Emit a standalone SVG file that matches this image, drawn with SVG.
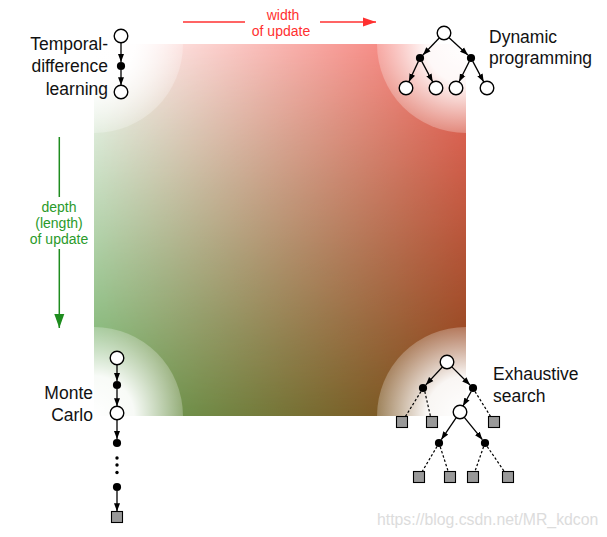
<svg xmlns="http://www.w3.org/2000/svg" width="607" height="537" viewBox="0 0 607 537">
<style>
.lbl{font-family:"Liberation Sans",Arial,Helvetica,sans-serif;font-size:17.5px;fill:#111}
.small{font-family:"Liberation Sans",Arial,Helvetica,sans-serif;font-size:14px}
.open{fill:#fff;stroke:#000;stroke-width:1.4}
.dot{fill:#000}
.sq{fill:#999;stroke:#000;stroke-width:1.1}
.edge{stroke:#000;stroke-width:1.3;fill:none;marker-end:url(#ah)}
.dash{stroke:#000;stroke-width:1.2;fill:none;stroke-dasharray:2.5 2}
</style>
<defs>
<linearGradient id="gTop" x1="0" y1="0" x2="1" y2="0">
<stop offset="0" stop-color="#ffffff"/><stop offset="1" stop-color="#f46a62"/>
</linearGradient>
<linearGradient id="gBot" x1="0" y1="0" x2="1" y2="0">
<stop offset="0" stop-color="#69a85a"/><stop offset="1" stop-color="#824214"/>
</linearGradient>
<linearGradient id="gV" x1="0" y1="0" x2="0" y2="1">
<stop offset="0" stop-color="#000"/><stop offset="1" stop-color="#fff"/>
</linearGradient>
<mask id="mV" maskUnits="userSpaceOnUse" x="94" y="44" width="372" height="372">
<rect x="94" y="44" width="372" height="372" fill="url(#gV)"/>
</mask>
<radialGradient id="gW">
<stop offset="0" stop-color="#fff" stop-opacity="1"/>
<stop offset="0.45" stop-color="#fff" stop-opacity="0.95"/>
<stop offset="1" stop-color="#fff" stop-opacity="0.25"/>
</radialGradient>
<clipPath id="sqClip"><rect x="94" y="44" width="372" height="372"/></clipPath>
<marker id="ah" markerUnits="userSpaceOnUse" markerWidth="8" markerHeight="7" refX="8" refY="3.5" orient="auto">
<path d="M0,0.5 L8,3.5 L0,6.5 z" fill="#000"/>
</marker>
<marker id="ahRed" markerUnits="userSpaceOnUse" markerWidth="13" markerHeight="10" refX="13" refY="5" orient="auto">
<path d="M0,0.6 L13,5 L0,9.4 z" fill="#ff3030"/>
</marker>
<marker id="ahGreen" markerUnits="userSpaceOnUse" markerWidth="14" markerHeight="11" refX="14" refY="5.5" orient="auto">
<path d="M0,0.5 L14,5.5 L0,10.5 z" fill="#1e8c1e"/>
</marker>
</defs>

<g id="background">
<rect x="94" y="44" width="372" height="372" fill="url(#gTop)"/>
<rect x="94" y="44" width="372" height="372" fill="url(#gBot)" mask="url(#mV)"/>
<g clip-path="url(#sqClip)">
<circle cx="94" cy="44" r="89" fill="url(#gW)"/>
<circle cx="466" cy="44" r="89" fill="url(#gW)"/>
<circle cx="94" cy="416" r="89" fill="url(#gW)"/>
<circle cx="466" cy="416" r="89" fill="url(#gW)"/>
</g>
</g>

<g id="axes">
<g id="width-axis">
<line x1="183" y1="22" x2="245" y2="22" stroke="#ff3030" stroke-width="1.5"/>
<line x1="320" y1="22" x2="376" y2="22" stroke="#ff3030" stroke-width="1.5" marker-end="url(#ahRed)"/>
<text class="small" fill="#ff3030" text-anchor="middle" x="283" y="20">width</text>
<text class="small" fill="#ff3030" text-anchor="middle" x="281" y="36">of update</text>
</g>
<g id="depth-axis">
<line x1="59.3" y1="137" x2="59.3" y2="197" stroke="#1e8c1e" stroke-width="1.5"/>
<line x1="59.3" y1="249" x2="59.3" y2="328" stroke="#1e8c1e" stroke-width="1.5" marker-end="url(#ahGreen)"/>
<text class="small" fill="#2a9a2a" text-anchor="middle" x="59" y="212">depth</text>
<text class="small" fill="#2a9a2a" text-anchor="middle" x="59" y="228">(length)</text>
<text class="small" fill="#2a9a2a" text-anchor="middle" x="59" y="244">of update</text>
</g>
</g>

<g id="connectors">
<line class="edge" x1="121" y1="42.6" x2="121" y2="62"/>
<line class="edge" x1="121" y1="70" x2="121" y2="85.2"/>
<line class="edge" x1="439.5" y1="37.7" x2="422.9" y2="55"/>
<line class="edge" x1="448.8" y1="37.4" x2="467.9" y2="55.1"/>
<line class="edge" x1="418.4" y1="61.4" x2="408.9" y2="81.7"/>
<line class="edge" x1="421.8" y1="61.4" x2="432.7" y2="81.9"/>
<line class="edge" x1="469.3" y1="61.4" x2="459.1" y2="81.8"/>
<line class="edge" x1="472.8" y1="61.4" x2="483.7" y2="81.9"/>
<line class="edge" x1="117" y1="364.6" x2="117" y2="381"/>
<line class="edge" x1="117" y1="389" x2="117" y2="406.2"/>
<line class="edge" x1="117" y1="419.6" x2="117" y2="439"/>
<line class="edge" x1="117" y1="491" x2="117" y2="511.3"/>
<line class="edge" x1="442.6" y1="366.8" x2="425.8" y2="384.9"/>
<line class="edge" x1="451.6" y1="366.6" x2="470" y2="385"/>
<line class="dash" x1="421" y1="391.5" x2="405.4" y2="416.5"/>
<line class="dash" x1="424.8" y1="391.5" x2="430.5" y2="416.5"/>
<line class="edge" x1="471.2" y1="391.5" x2="463" y2="406"/>
<line class="dash" x1="475" y1="391.5" x2="490.6" y2="416.5"/>
<line class="edge" x1="456.4" y1="417.4" x2="441.3" y2="439.6"/>
<line class="edge" x1="464.1" y1="417.1" x2="482.4" y2="439.7"/>
<line class="dash" x1="437" y1="446.5" x2="422.2" y2="471.5"/>
<line class="dash" x1="440.2" y1="446.7" x2="448.2" y2="471.5"/>
<line class="dash" x1="483.6" y1="446.7" x2="474.9" y2="471.5"/>
<line class="dash" x1="487.2" y1="446.5" x2="504.3" y2="471.5"/>
</g>

<g id="td-learning">
<circle class="open" cx="121" cy="36" r="6.8"/>
<circle class="dot" cx="121" cy="66" r="4.1"/>
<circle class="open" cx="121" cy="92" r="6.8"/>
<text class="lbl" text-anchor="end" x="108" y="49.5">Temporal-</text>
<text class="lbl" text-anchor="end" x="108" y="72">difference</text>
<text class="lbl" text-anchor="end" x="108" y="94.5">learning</text>
</g>

<g id="dynamic-programming">
<circle class="open" cx="444" cy="33" r="6.8"/>
<circle class="dot" cx="420" cy="58" r="4.1"/>
<circle class="dot" cx="471" cy="58" r="4.1"/>
<circle class="open" cx="406" cy="88" r="6.8"/>
<circle class="open" cx="436" cy="88" r="6.8"/>
<circle class="open" cx="456" cy="88" r="6.8"/>
<circle class="open" cx="487" cy="88" r="6.8"/>
<text class="lbl" x="489" y="42.5">Dynamic</text>
<text class="lbl" x="489" y="63.5">programming</text>
</g>

<g id="monte-carlo">
<circle class="open" cx="117" cy="358" r="6.8"/>
<circle class="dot" cx="117" cy="385" r="4.1"/>
<circle class="open" cx="117" cy="413" r="6.8"/>
<circle class="dot" cx="117" cy="443" r="4.1"/>
<circle class="dot" cx="117" cy="458" r="1.7"/>
<circle class="dot" cx="117" cy="465" r="1.7"/>
<circle class="dot" cx="117" cy="472.5" r="1.7"/>
<circle class="dot" cx="117" cy="487" r="4.1"/>
<rect class="sq" x="111.5" y="511.5" width="11" height="11"/>
<text class="lbl" text-anchor="end" x="93" y="398.5">Monte</text>
<text class="lbl" text-anchor="end" x="93" y="421">Carlo</text>
</g>

<g id="exhaustive-search">
<circle class="open" cx="447" cy="362" r="6.8"/>
<circle class="dot" cx="423" cy="388" r="4.1"/>
<circle class="dot" cx="473" cy="388" r="4.1"/>
<rect class="sq" x="396.5" y="416.5" width="11" height="11"/>
<rect class="sq" x="426.5" y="416.5" width="11" height="11"/>
<rect class="sq" x="488.5" y="416.5" width="11" height="11"/>
<circle class="open" cx="460" cy="412" r="6.8"/>
<circle class="dot" cx="439" cy="443" r="4.1"/>
<circle class="dot" cx="485" cy="443" r="4.1"/>
<rect class="sq" x="413.5" y="471.5" width="11" height="11"/>
<rect class="sq" x="444.5" y="471.5" width="11" height="11"/>
<rect class="sq" x="467.5" y="471.5" width="11" height="11"/>
<rect class="sq" x="502.5" y="471.5" width="11" height="11"/>
<text class="lbl" x="493" y="380">Exhaustive</text>
<text class="lbl" x="493" y="402">search</text>
</g>

<g id="watermark">
<text x="377" y="525" font-family="'Liberation Sans',Arial,sans-serif" font-size="15.8" fill="#dcdcdc">https://blog.csdn.net/MR_kdcon</text>
</g>
</svg>
